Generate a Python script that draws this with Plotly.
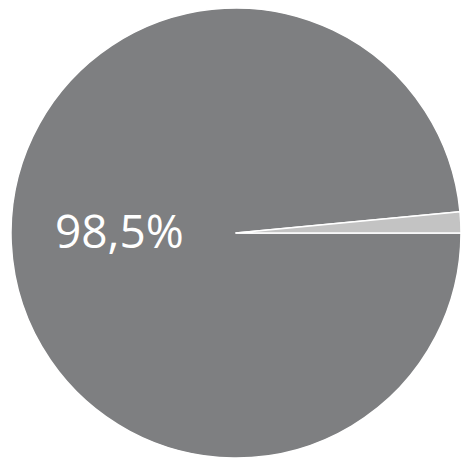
import plotly.graph_objects as go

labels = ["Main", "Other"]
values = [98.5, 1.5]
colors = ["#7e7f81", "#c3c3c3"]
label_text = "98,5%"

fig = go.Figure(go.Pie(
    labels=labels,
    values=values,
    sort=False,
    direction="clockwise",
    rotation=90,
    marker=dict(colors=colors, line=dict(color="white", width=1.5)),
    textinfo="none",
    hoverinfo="label+percent",
    showlegend=False,
    domain=dict(x=[11/461, 1.0], y=[3/463, 457/463]),
))

fig.add_annotation(
    text=label_text,
    x=119/461, y=1 - 230/463, xref="paper", yref="paper",
    showarrow=False,
    font=dict(family="Open Sans", size=46, color="white"),
    xanchor="center", yanchor="middle",
)

fig.update_layout(
    width=461, height=463,
    margin=dict(l=0, r=0, t=0, b=0),
    paper_bgcolor="white",
    plot_bgcolor="white",
)

fig.write_html("out.html", config={"displayModeBar": False},
               post_script="document.body.style.margin='0';")
